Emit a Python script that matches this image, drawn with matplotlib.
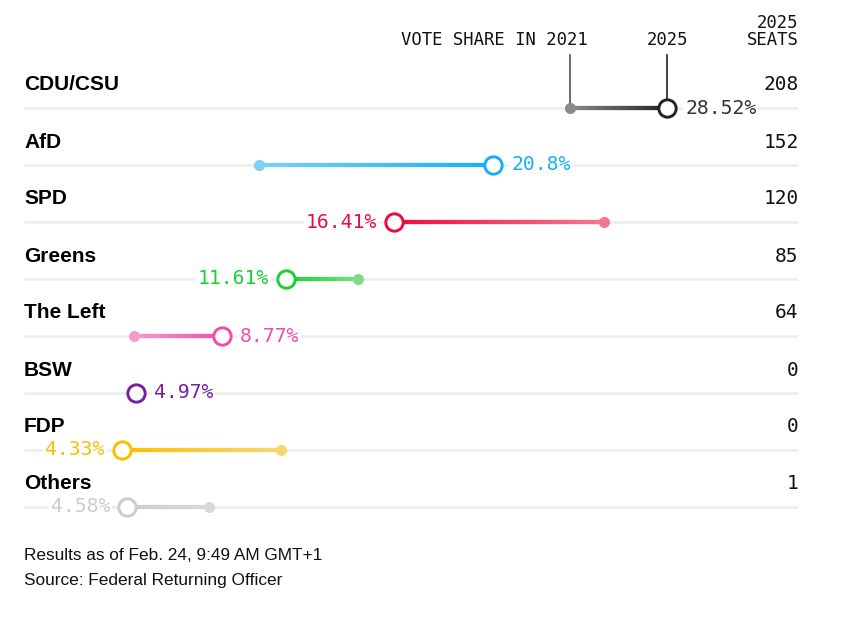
import matplotlib.pyplot as plt
import numpy as np
from matplotlib.collections import LineCollection
from matplotlib.colors import to_rgb

parties = ["CDU/CSU", "AfD", "SPD", "Greens", "The Left", "BSW", "FDP", "Others"]
share_2025 = [28.52, 20.8, 16.41, 11.61, 8.77, 4.97, 4.33, 4.58]
share_2021 = [24.2, 10.4, 25.7, 14.8, 4.9, None, 11.4, 8.2]
seats = [208, 152, 120, 85, 64, 0, 0, 1]
col_2025 = ["#222222", "#14aff5", "#ee0a3f", "#16d232", "#f54ba6", "#7b1fa2", "#fbbf00", "#cccccc"]
col_2021 = ["#8a8a8a", "#7dcff6", "#f47790", "#7ddc86", "#f49bcb", "#7b1fa2", "#f7d870", "#d9d9d9"]
label_col = ["#333333", "#14aff5", "#ee0a3f", "#16d232", "#f54ba6", "#7b1fa2", "#fbbf00", "#cccccc"]

# pixel layout: 0% at x=24px, 22.55 px per point; row gridlines from y=108, 57 px apart
PX0, PXS = 24, 22.55
RY0, RYS = 108, 57
W, H = 864, 619

fig = plt.figure(figsize=(W / 100, H / 100), dpi=100)
ax = fig.add_axes([0, 0, 1, 1])
ax.set_xlim(-PX0 / PXS, (W - PX0) / PXS)
ax.set_ylim((H - RY0) / RYS, -RY0 / RYS)
ax.axis("off")

MONO = "DejaVu Sans Mono"
SANS = "Liberation Sans"
grid_end = (798 - PX0) / PXS
name_dy = -23 / RYS

for i, p in enumerate(parties):
    ax.plot([0, grid_end], [i, i], color="#eeeeee", lw=2, zorder=1, solid_capstyle="butt")
    ax.text(0, i + name_dy, p, fontsize=15, fontweight="bold", family=SANS,
            ha="left", va="center", color="black")
    ax.text(grid_end + 0.03, i + name_dy, str(seats[i]), fontsize=14, family=MONO,
            ha="right", va="center", color="#111111")

    v25, v21 = share_2025[i], share_2021[i]
    if v21 is not None:
        t = np.linspace(0, 1, 60)
        xs = v21 + (v25 - v21) * t
        pts = np.column_stack([xs, np.full_like(xs, i)])
        segs = np.stack([pts[:-1], pts[1:]], axis=1)
        c1, c2 = np.array(to_rgb(col_2021[i])), np.array(to_rgb(col_2025[i]))
        cols = [c1 + (c2 - c1) * s for s in t[:-1]]
        ax.add_collection(LineCollection(segs, colors=cols, linewidths=3.1, zorder=2,
                                         capstyle="butt"))
        ax.plot(v21, i, "o", ms=8, color=col_2021[i], mec="none", zorder=3)
    ax.plot(v25, i, "o", ms=12.5, mfc="white", mec=col_2025[i], mew=2.1, zorder=4)

    up = v21 is None or v25 >= v21
    ax.annotate(f"{v25:g}%", (v25, i), textcoords="offset pixels",
                xytext=(18 if up else -17, 0), ha="left" if up else "right",
                va="center", fontsize=14.2, family=MONO, color=label_col[i], zorder=5,
                bbox=dict(boxstyle="square,pad=0.1", fc="white", ec="none"))

# header
head_y = (40 - RY0) / RYS
ax.text((588 - PX0) / PXS, head_y, "VOTE SHARE IN 2021", fontsize=12.4, family=MONO,
        ha="right", va="center", color="#111111")
ax.text(share_2025[0], head_y, "2025", fontsize=12.4, family=MONO,
        ha="center", va="center", color="#111111")
ax.text(grid_end + 0.03, (31.5 - RY0) / RYS, "2025\nSEATS", fontsize=12.4, family=MONO,
        ha="right", va="center", color="#111111", linespacing=0.95)
lead_top = (55 - RY0) / RYS
ax.plot([share_2021[0]] * 2, [lead_top, 0], color="#555555", lw=1.2, zorder=1.5)
ax.plot([share_2025[0]] * 2, [lead_top, -0.15], color="#222222", lw=1.2, zorder=1.5)

# footer
ax.text(0, (555 - RY0) / RYS, "Results as of Feb. 24, 9:49 AM GMT+1", fontsize=12.4,
        family=SANS, ha="left", va="center", color="#111111")
ax.text(0, (581 - RY0) / RYS, "Source: Federal Returning Officer", fontsize=12.4,
        family=SANS, ha="left", va="center", color="#111111")

fig.savefig("out.png", dpi=100)
